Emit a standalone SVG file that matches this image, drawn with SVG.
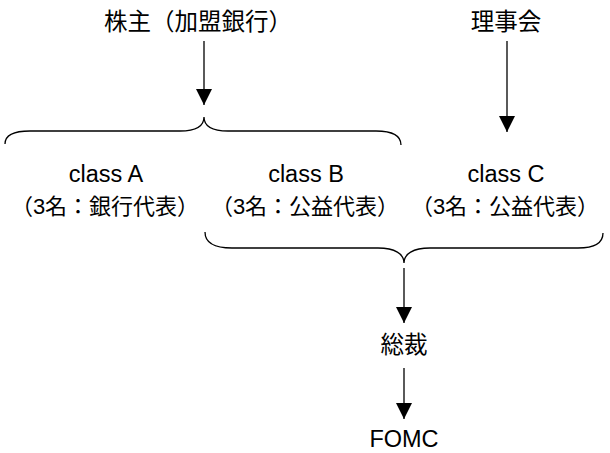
<svg xmlns="http://www.w3.org/2000/svg" width="610" height="453" viewBox="0 0 610 453">
<defs>
<marker id="ah" viewBox="0 0 16 16" refX="16" refY="8" markerWidth="16" markerHeight="16" markerUnits="userSpaceOnUse" orient="auto">
<path d="M0,0 L16,8 L0,16 Z" fill="#000"/>
</marker>
<style>
text{font-family:"Liberation Sans","Noto Sans CJK JP",sans-serif;fill:#000;text-anchor:middle}
.t{font-size:23.5px}
.s{font-size:22px}
.ln{stroke:#000;stroke-width:1.3;fill:none}
.ar{marker-end:url(#ah)}
</style>
</defs>
<rect width="610" height="453" fill="#fff"/>
<g id="shareholders"><text class="t" x="198" y="30">株主（加盟銀行）</text></g>
<g id="board"><text class="t" x="506" y="30">理事会</text></g>
<g id="classA"><text class="t" x="106" y="182">class A</text><text class="s" x="105" y="214">（3名：銀行代表）</text></g>
<g id="classB"><text class="t" x="306" y="182">class B</text><text class="s" x="305" y="214">（3名：公益代表）</text></g>
<g id="classC"><text class="t" x="506" y="182">class C</text><text class="s" x="505" y="214">（3名：公益代表）</text></g>
<g id="president"><text class="t" x="404" y="353">総裁</text></g>
<g id="fomc"><text class="t" x="404" y="447">FOMC</text></g>
<g id="connectors">
<path class="ln ar" d="M204,41 V105"/>
<path class="ln ar" d="M507,41 V132"/>
<path class="ln" d="M5,144 C5,135 14,131 30,131 L180,131 C196,131 204,126 204,117 C204,126 212,131 228,131 L376,131 C392,131 401,135 401,145"/>
<path class="ln" d="M205,232 C205,242 214,248 232,248 L378,248 C395,248 404,254 404,263 C404,254 413,248 430,248 L578,248 C595,248 603,243 603,233"/>
<path class="ln ar" d="M404,268 V323"/>
<path class="ln ar" d="M404,368 V419"/>
</g>
</svg>
